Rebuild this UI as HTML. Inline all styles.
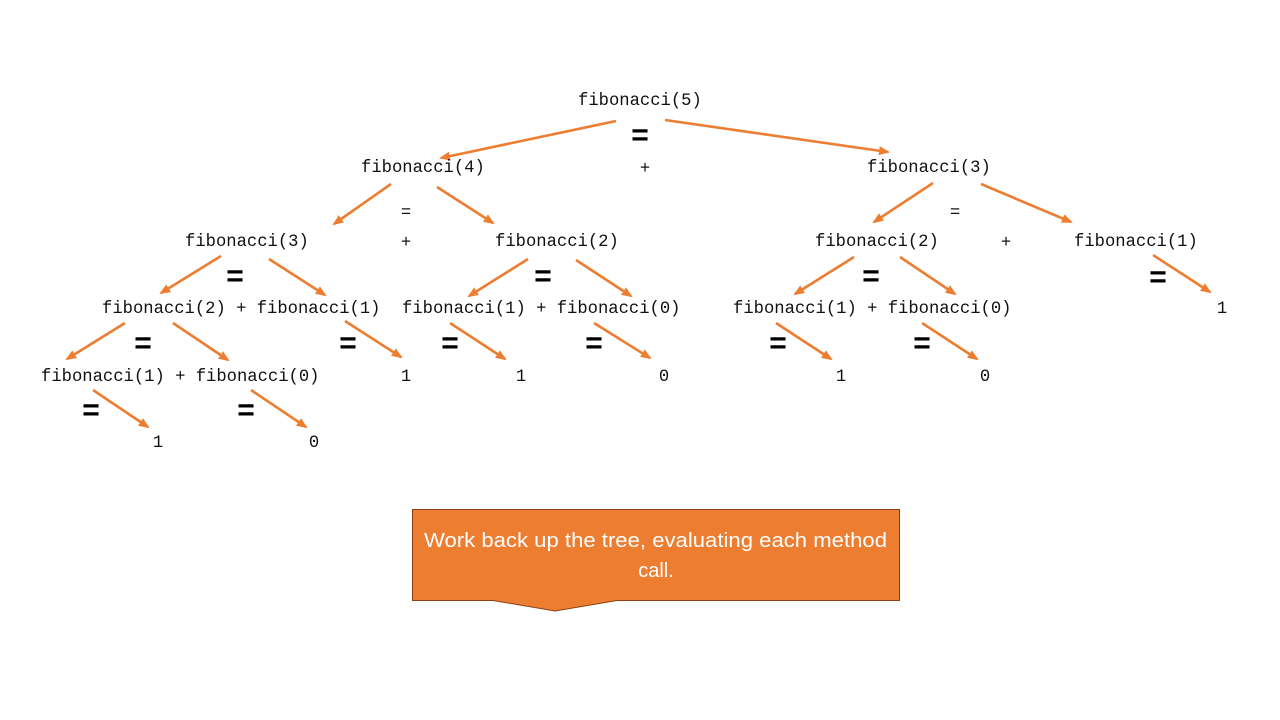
<!DOCTYPE html>
<html>
<head>
<meta charset="utf-8">
<style>
html,body{margin:0;padding:0;background:#fff;}
svg{display:block;}
.m{font-family:"Liberation Mono","DejaVu Sans Mono",monospace;font-size:17.2px;fill:#111;}
.e{font-family:"Liberation Sans",sans-serif;font-weight:bold;font-size:30px;fill:#000;text-anchor:middle;dominant-baseline:central;}
.c{text-anchor:middle;}
.ln{stroke:#ED7D31;stroke-width:2.6;fill:none;marker-end:url(#a);}
.bx{font-family:"Liberation Sans",sans-serif;font-size:20px;fill:#fff;}
</style>
</head>
<body>
<svg width="1280" height="720" viewBox="0 0 1280 720" xmlns="http://www.w3.org/2000/svg">
<defs>
<marker id="a" markerWidth="11" markerHeight="9" refX="9" refY="4.5" orient="auto" markerUnits="userSpaceOnUse">
<path d="M0,0 L11,4.5 L0,9 z" fill="#ED7D31"/>
</marker>
</defs>

<!-- connectors -->
<line class="ln" x1="616" y1="121" x2="441" y2="158"/>
<line class="ln" x1="665" y1="120" x2="888" y2="152"/>
<line class="ln" x1="391" y1="184" x2="334" y2="224"/>
<line class="ln" x1="437" y1="187" x2="493" y2="223"/>
<line class="ln" x1="933" y1="183" x2="874" y2="222"/>
<line class="ln" x1="981" y1="184" x2="1071" y2="222"/>
<line class="ln" x1="221" y1="256" x2="161" y2="293"/>
<line class="ln" x1="269" y1="259" x2="325" y2="295"/>
<line class="ln" x1="528" y1="259" x2="469" y2="296"/>
<line class="ln" x1="576" y1="260" x2="631" y2="296"/>
<line class="ln" x1="854" y1="257" x2="795" y2="294"/>
<line class="ln" x1="900" y1="257" x2="955" y2="294"/>
<line class="ln" x1="1153" y1="255" x2="1210" y2="292"/>
<line class="ln" x1="125" y1="323" x2="67" y2="359"/>
<line class="ln" x1="173" y1="323" x2="228" y2="360"/>
<line class="ln" x1="345" y1="321" x2="401" y2="357"/>
<line class="ln" x1="450" y1="323" x2="505" y2="359"/>
<line class="ln" x1="594" y1="323" x2="650" y2="358"/>
<line class="ln" x1="776" y1="323" x2="831" y2="359"/>
<line class="ln" x1="922" y1="323" x2="977" y2="359"/>
<line class="ln" x1="93" y1="390" x2="148" y2="427"/>
<line class="ln" x1="251" y1="390" x2="306" y2="427"/>

<!-- node text -->
<text class="m" x="578" y="105">fibonacci(5)</text>
<text class="m" x="361" y="172">fibonacci(4)</text>
<text class="m" x="867" y="172">fibonacci(3)</text>
<text class="m" x="185" y="246">fibonacci(3)</text>
<text class="m" x="495" y="246">fibonacci(2)</text>
<text class="m" x="815" y="246">fibonacci(2)</text>
<text class="m" x="1074" y="246">fibonacci(1)</text>
<text class="m" x="102" y="313">fibonacci(2) + fibonacci(1)</text>
<text class="m" x="402" y="313">fibonacci(1) + fibonacci(0)</text>
<text class="m" x="733" y="313">fibonacci(1) + fibonacci(0)</text>
<text class="m c" x="1222" y="313">1</text>
<text class="m" x="41" y="381">fibonacci(1) + fibonacci(0)</text>
<text class="m c" x="406" y="381">1</text>
<text class="m c" x="521" y="381">1</text>
<text class="m c" x="664" y="381">0</text>
<text class="m c" x="841" y="381">1</text>
<text class="m c" x="985" y="381">0</text>
<text class="m c" x="158" y="447">1</text>
<text class="m c" x="314" y="447">0</text>

<!-- small operators -->
<text class="m c" x="645" y="173">+</text>
<text class="m c" x="406" y="217">=</text>
<text class="m c" x="406" y="247">+</text>
<text class="m c" x="955" y="217">=</text>
<text class="m c" x="1006" y="247">+</text>

<!-- bold equals -->
<text class="e" x="640" y="135">=</text>
<text class="e" x="235" y="276">=</text>
<text class="e" x="543" y="276">=</text>
<text class="e" x="871" y="276">=</text>
<text class="e" x="1158" y="277">=</text>
<text class="e" x="143" y="343">=</text>
<text class="e" x="348" y="343">=</text>
<text class="e" x="450" y="343">=</text>
<text class="e" x="594" y="343">=</text>
<text class="e" x="778" y="343">=</text>
<text class="e" x="922" y="343">=</text>
<text class="e" x="91" y="410">=</text>
<text class="e" x="246" y="410">=</text>

<!-- callout -->
<path d="M412.5,509.5 L899.5,509.5 L899.5,600.5 L617,600.5 L555,611 L493,600.5 L412.5,600.5 Z" fill="#ED7D31" stroke="#8A4216" stroke-width="1"/>
<text class="bx" x="424" y="547" textLength="463" lengthAdjust="spacingAndGlyphs">Work back up the tree, evaluating each method</text>
<text class="bx" x="656" y="577" text-anchor="middle">call.</text>
</svg>
</body>
</html>
